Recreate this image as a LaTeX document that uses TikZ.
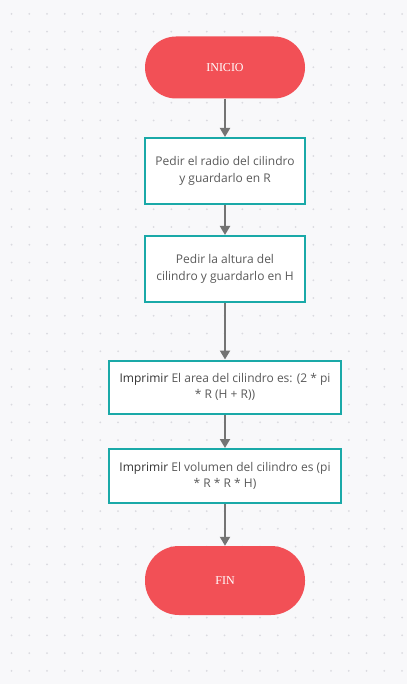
\documentclass[tikz,border=0pt]{standalone}
\usepackage{fontspec}
\setmainfont{Open Sans}
\newfontfamily\titlefont{Liberation Serif}
\usepackage{tikz}
\usetikzlibrary{arrows.meta}
\usetikzlibrary{positioning}
\definecolor{fondo}{HTML}{F8F8FA}
\definecolor{punto}{HTML}{DADAE0}
\definecolor{rojo}{HTML}{F25056}
\definecolor{verde}{HTML}{1AA9A8}
\definecolor{flecha}{HTML}{747474}
\definecolor{texto}{HTML}{5A5A5A}
\tikzset{
    terminal/.style={draw=none, fill=rojo, rounded corners=31pt, minimum width=160pt,
        minimum height=62pt, text=white, font=\titlefont\fontsize{12}{14}\selectfont},
    proceso/.style={draw=verde, line width=2pt, fill=white, minimum width=160pt,
        minimum height=66pt, align=center, text=texto, font=\fontsize{12}{16.5}\selectfont},
    salida/.style={proceso, minimum width=232pt, minimum height=53pt},
    flujo/.style={draw=flecha, line width=2pt, -{Triangle[width=10pt,length=9pt]}}
}
\newcommand{\imp}{\textcolor{black!80}{Imprimir}}

\begin{document}
\begin{tikzpicture}[x=1pt,y=-1pt]
	\fill[fondo] (0,0) rectangle (407,684);
	\useasboundingbox (0,0) rectangle (407,684);
	\foreach \i in {0,...,22}
		\foreach \j in {0,...,38}
			\fill[punto] (11.5+17.75*\i,14+17.75*\j) circle (1pt);
	\node[terminal] (inicio) at (225,67.5) {INICIO};
	\node[proceso] (radio) at (225,171) {Pedir el radio del cilindro\\y guardarlo en R};
	\node[proceso] (altura) at (225,269) {Pedir la altura del\\cilindro y guardarlo en H};
	\node[salida] (area) at (225,387) {\imp{} El area del cilindro es: (2 * pi\\* R (H + R))};
	\node[salida, minimum height=54pt] (volumen) at (225,476) {\imp{} El volumen del cilindro es (pi\\* R * R * H)};
	\node[terminal, minimum height=69pt, rounded corners=34pt] (fin) at (225,580.5) {FIN};
	\draw[flujo] (inicio) -- (radio);
	\draw[flujo] (radio) -- (altura);
	\draw[flujo] (altura) -- (area);
	\draw[flujo] (area) -- (volumen);
	\draw[flujo] (volumen) -- (fin);
\end{tikzpicture}
\end{document}
